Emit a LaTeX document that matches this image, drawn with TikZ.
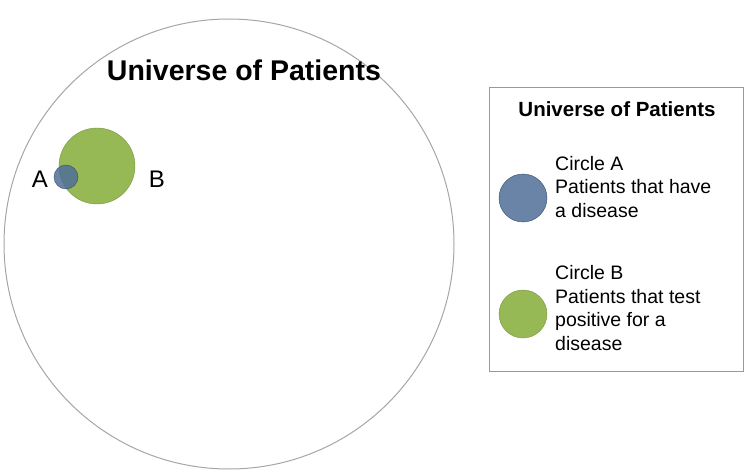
\documentclass[tikz,border=0pt]{standalone}
\usepackage{fontspec}
\setmainfont{Liberation Sans}
\usepackage{tikz}
\definecolor{diseaseblue}{RGB}{79,110,150}
\definecolor{testgreen}{RGB}{150,185,85}
\tikzset{
  circA/.style={circle,draw=diseaseblue!70!black,fill=diseaseblue,fill opacity=0.85,inner sep=0pt},
  circB/.style={circle,draw=testgreen!80!black,fill=testgreen,inner sep=0pt},
  legtext/.style={anchor=west,align=left,inner sep=0pt,font=\fontsize{19.5}{23.7}\selectfont}
}
\begin{document}
\begin{tikzpicture}[x=1pt,y=-1pt]
\useasboundingbox (0,0) rectangle (750,476);
% universe
\draw[gray!70,line width=1pt] (229,244) circle (225);
\node[font=\fontsize{28.5}{32}\bfseries] (univ) at (244,70) {Universe of Patients};
\node[circB,minimum size=76pt] (B) at (97,166) {};
\node[circA,minimum size=24pt] (A) at (66,177) {};
\node[font=\fontsize{24}{28}\selectfont] (labA) at (40,179) {A};
\node[font=\fontsize{24}{28}\selectfont] (labB) at (157,179) {B};
% legend
\draw[gray!80] (489,87) rectangle (743,371);
\node[font=\fontsize{20.5}{24}\bfseries] (legtitle) at (617,109) {Universe of Patients};
\node[circA,minimum size=48pt] (legA) at (523,198) {};
\node[legtext] (txtA) at (555,187) {Circle A\\Patients that have\\a disease};
\node[legtext] (txtB) at (555,308) {Circle B\\Patients that test\\positive for a\\disease};
\node[circB,minimum size=48pt] (legB) at (523,314) {};
\end{tikzpicture}
\end{document}
